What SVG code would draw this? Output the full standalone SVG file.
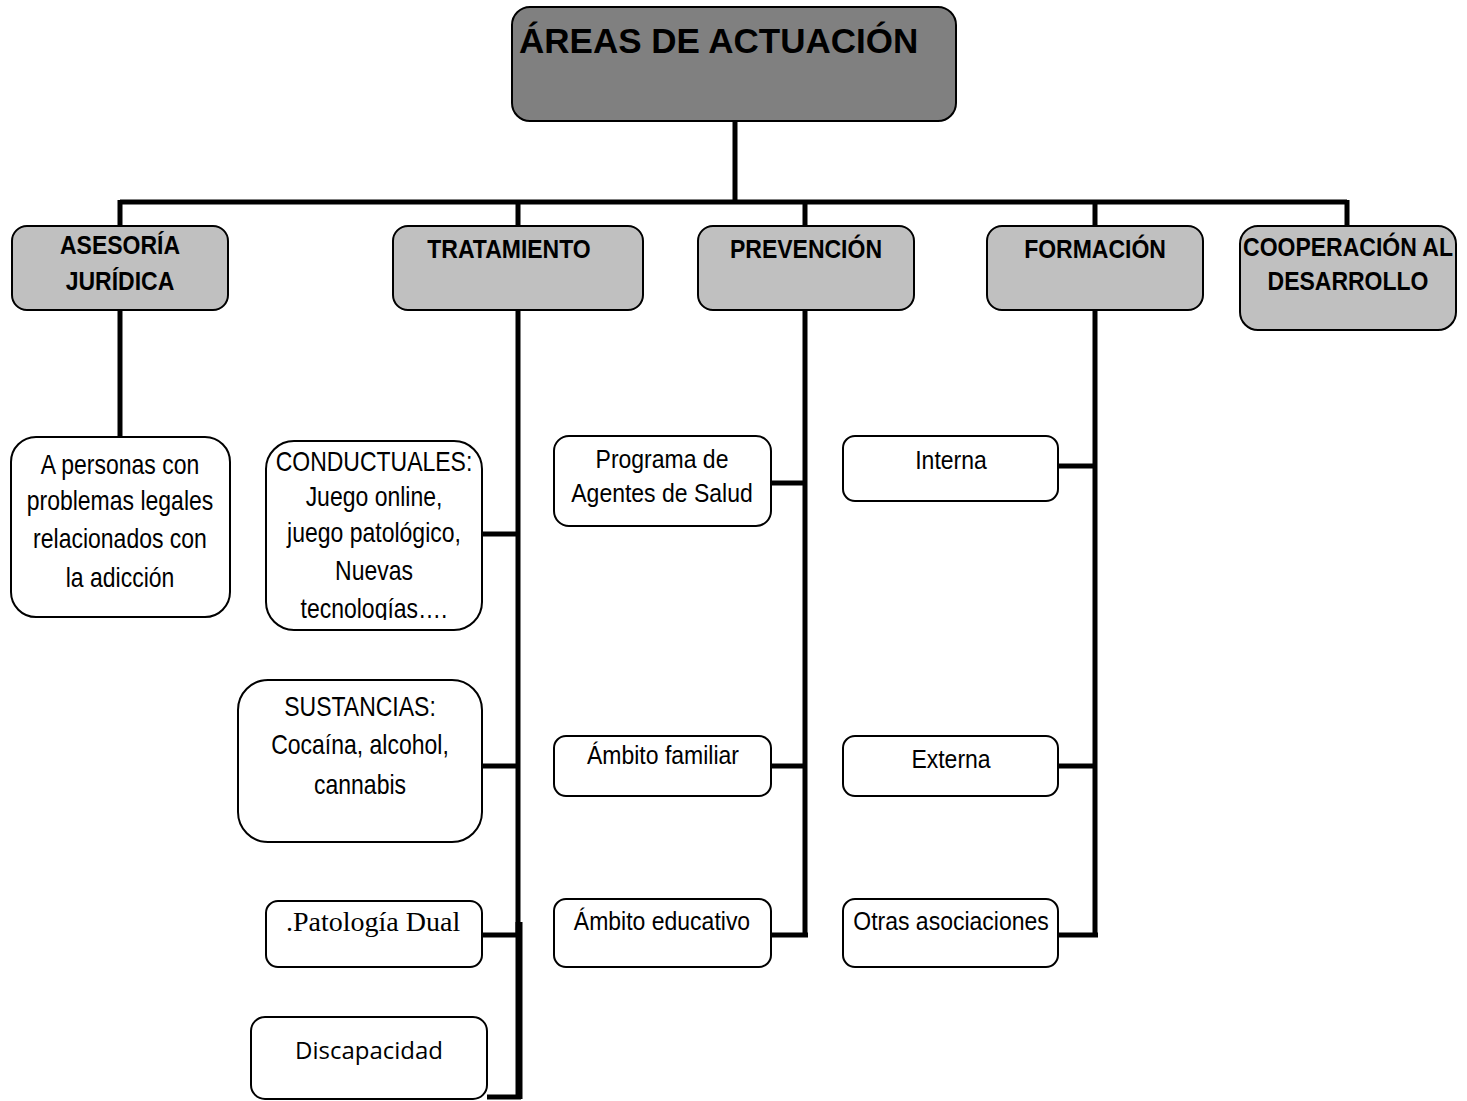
<svg xmlns="http://www.w3.org/2000/svg" width="1467" height="1101" viewBox="0 0 1467 1101">
<style>
.bx{fill:#fff;stroke:#000;stroke-width:2}
.l1{fill:#c0c0c0;stroke:#000;stroke-width:2}
.top{fill:#808080;stroke:#000;stroke-width:2}
.c{fill:none;stroke:#000;stroke-width:5;stroke-linecap:butt}
.h{font-family:"Liberation Sans",Arial,sans-serif;font-weight:bold;font-size:23px;text-anchor:middle;fill:#000}
.t{font-family:"Liberation Sans",Arial,sans-serif;font-size:23px;text-anchor:middle;fill:#000}
</style>
<defs>
<clipPath id="clipC"><rect x="266" y="441" width="216" height="179"/></clipPath>
</defs>
<rect width="1467" height="1101" fill="#fff"/>
<g id="connectors">
<path class="c" d="M735 121V202M120 202H1347M120 200V228M518 200V228M805 200V228M1095 200V228M1347 200V228"/>
<path class="c" d="M120 310V437"/>
<path class="c" d="M518 310V935M481 534H520M481 766H520M481 935H521M487 1097H521"/>
<path d="M519 922V1099" fill="none" stroke="#000" stroke-width="7"/>
<path class="c" d="M805 310V937M771 483H807M771 766H807M771 935H808"/>
<path class="c" d="M1095 310V937M1058 466H1097M1058 766H1097M1058 935H1098"/>
</g>
<g id="root"><rect class="top" x="512" y="7" width="444" height="114" rx="18"/><text x="519" y="53" style="font-family:'Liberation Sans',Arial,sans-serif;font-weight:bold;font-size:35px">ÁREAS DE ACTUACIÓN</text></g>
<g id="asesoria"><rect class="l1" x="12" y="226" width="216" height="84" rx="15"/><text class="h" font-size="22" transform="matrix(1 0 0 1.16 120 254)">ASESORÍA</text><text class="h" font-size="22" transform="matrix(1 0 0 1.16 120 290)">JURÍDICA</text></g>
<g id="tratamiento"><rect class="l1" x="393" y="226" width="250" height="84" rx="15"/><text class="h" transform="matrix(1 0 0 1.16 509 258)">TRATAMIENTO</text></g>
<g id="prevencion"><rect class="l1" x="698" y="226" width="216" height="84" rx="15"/><text class="h" transform="matrix(1 0 0 1.16 806 258)">PREVENCIÓN</text></g>
<g id="formacion"><rect class="l1" x="987" y="226" width="216" height="84" rx="15"/><text class="h" transform="matrix(1 0 0 1.16 1095 258)">FORMACIÓN</text></g>
<g id="cooperacion"><rect class="l1" x="1240" y="226" width="216" height="104" rx="18"/><text class="h" font-size="21.5" transform="matrix(1 0 0 1.16 1348 256)">COOPERACIÓN AL</text><text class="h" font-size="21.5" transform="matrix(1 0 0 1.16 1348 290)">DESARROLLO</text></g>
<g id="personas"><rect class="bx" x="11" y="437" width="219" height="180" rx="25"/>
<text class="t" font-size="24" transform="matrix(1 0 0 1.18 120 474)">A personas con</text>
<text class="t" font-size="24" transform="matrix(1 0 0 1.18 120 510)">problemas  legales</text>
<text class="t" font-size="24" transform="matrix(1 0 0 1.18 120 548)">relacionados con</text>
<text class="t" font-size="24" transform="matrix(1 0 0 1.18 120 587)">la adicción</text></g>
<g id="conductuales"><rect class="bx" x="266" y="441" width="216" height="189" rx="28"/>
<g clip-path="url(#clipC)">
<text class="t" font-size="23.5" transform="matrix(1 0 0 1.18 374 471)">CONDUCTUALES:</text>
<text class="t" font-size="23.5" transform="matrix(1 0 0 1.18 374 506)">Juego online,</text>
<text class="t" font-size="23.5" transform="matrix(1 0 0 1.18 374 542)">juego patológico,</text>
<text class="t" font-size="23.5" transform="matrix(1 0 0 1.18 374 580)">Nuevas</text>
<text class="t" font-size="23.5" transform="matrix(1 0 0 1.18 374 618)">tecnologías….</text>
</g></g>
<g id="sustancias"><rect class="bx" x="238" y="680" width="244" height="162" rx="30"/>
<text class="t" font-size="24" transform="matrix(1 0 0 1.18 360 716)">SUSTANCIAS:</text>
<text class="t" font-size="24" transform="matrix(1 0 0 1.18 360 754)">Cocaína, alcohol,</text>
<text class="t" font-size="24" transform="matrix(1 0 0 1.18 360 794)">cannabis</text></g>
<g id="dual"><rect class="bx" x="266" y="901" width="216" height="66" rx="12"/><text x="286" y="931" style="font-family:'Liberation Serif','Times New Roman',serif;font-size:28px">.Patología Dual</text></g>
<g id="discapacidad"><rect class="bx" x="251" y="1017" width="236" height="82" rx="14"/><text x="369" y="1059" style="font-family:'Open Sans','Noto Sans',sans-serif;font-size:24px;text-anchor:middle">Discapacidad</text></g>
<g id="agentes"><rect class="bx" x="554" y="436" width="217" height="90" rx="15"/>
<text class="t" transform="matrix(1 0 0 1.15 662 468)">Programa de</text>
<text class="t" transform="matrix(1 0 0 1.15 662 502)">Agentes de Salud</text></g>
<g id="familiar"><rect class="bx" x="554" y="736" width="217" height="60" rx="12"/><text class="t" transform="matrix(1 0 0 1.15 663 764)">Ámbito familiar</text></g>
<g id="educativo"><rect class="bx" x="554" y="899" width="217" height="68" rx="12"/><text class="t" transform="matrix(1 0 0 1.15 662 930)">Ámbito educativo</text></g>
<g id="interna"><rect class="bx" x="843" y="436" width="215" height="65" rx="12"/><text class="t" font-size="25" transform="matrix(1 0 0 1.12 951 469)">Interna</text></g>
<g id="externa"><rect class="bx" x="843" y="736" width="215" height="60" rx="12"/><text class="t" font-size="26" transform="matrix(1 0 0 1.1 951 768)">Externa</text></g>
<g id="otras"><rect class="bx" x="843" y="899" width="215" height="68" rx="12"/><text class="t" transform="matrix(1 0 0 1.15 951 930)">Otras asociaciones</text></g>
</svg>
